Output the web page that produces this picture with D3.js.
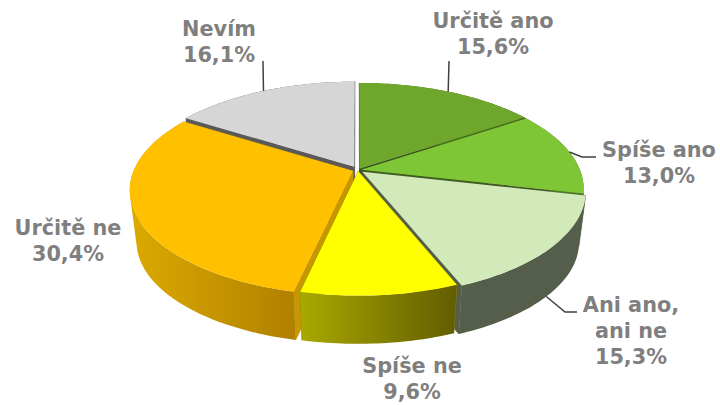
<!DOCTYPE html>
<html>
<head>
<meta charset="utf-8">
<script src="https://cdn.jsdelivr.net/npm/d3@7"></script>
<style>
  html, body { margin: 0; padding: 0; background: #fff; }
  svg { display: block; }
  text { font-family: "DejaVu Sans", sans-serif; font-weight: bold; font-size: 20.8px; fill: #7f7f7f; text-anchor: middle; }
</style>
</head>
<body>
<svg id="chart" width="720" height="405"></svg>
<script>
const categories = ['Určitě ano', 'Spíše ano', 'Ani ano, ani ne', 'Spíše ne', 'Určitě ne', 'Nevím'];
const values = [15.6, 13.0, 15.3, 9.6, 30.4, 16.1];

// styling per slice, same order as categories
const topColors = ['#6fa72d', '#7fc636', '#d2e9b9', '#ffff00', '#ffc000', '#d6d6d6'];
const wallLeft = ['#4a701e', '#4f7a22', '#555e4a', '#a9a900', '#dcaa00', '#595959'];
const wallRight = ['#4a701e', '#4f7a22', '#555e4a', '#635c00', '#b08000', '#595959'];
const edgeColors = ['#38551a', '#3c5c1a', '#555e4a', '#8a8a00', '#c89600', '#595959'];
const explode = [0.016, 0.014, 0.026, 0.012, 0.025, 0.036];
const labelLines = [['Určitě ano'], ['Spíše ano'], ['Ani ano,', 'ani ne'], ['Spíše ne'], ['Určitě ne'], ['Nevím']];
const labelPos = [[493, 28], [659, 157], [631, 312], [412, 373], [68, 235], [219, 36]];
const leaderEnds = [[[449, 61]], [[582, 157], [596, 157]], [[565, 312], [577, 312]], null, null, [[263, 61]]];

const svg = d3.select('#chart');
const defs = svg.append('defs');

// perspective projection of the unit disc
const cx = 358, cy = 170, a = 219, b = 101.5, k = 0.18;
const depth = 52, bottomScale = 0.97;

function project(u, v, bottom) {
    const w = 1 - k * v;
    const s = bottom ? bottomScale : 1;
    return [cx + s * a * u / w, cy + (bottom ? depth : 0) + s * b * v / w];
}

const pie = d3.pie().sort(null).value(d => d);
const arcs = pie(values).map((d, i) => {
    const mid = (d.startAngle + d.endAngle) / 2;
    const e = explode[i];
    const ox = e * Math.sin(mid), oy = -e * Math.cos(mid);
    const pt = (angle, r, bottom) => project(ox + r * Math.sin(angle), oy - r * Math.cos(angle), bottom);
    const n = Math.ceil((d.endAngle - d.startAngle) / 0.02);
    const angles = d3.range(n + 1).map(j => d.startAngle + (d.endAngle - d.startAngle) * j / n);
    return {i, mid, pt, angles, start: d.startAngle, end: d.endAngle};
});

const line = d3.line();
const closed = pts => line(pts) + 'Z';

// back slices first, the yellow one sits in front of the orange
const order = [5, 0, 1, 2, 4, 3];

order.forEach(i => {
    const s = arcs[i];
    const g = svg.append('g');

    // radial cut walls
    [s.start, s.end].forEach(angle => {
        g.append('path')
            .attr('d', closed([s.pt(0, 0, false), s.pt(angle, 1, false), s.pt(angle, 1, true), s.pt(0, 0, true)]))
            .attr('fill', edgeColors[i])
            .attr('stroke', edgeColors[i])
            .attr('stroke-width', 0.6);
    });

    // outer wall, one hull per rim segment so the silhouette stays straight
    const topRim = s.angles.map(t => s.pt(t, 1, false));
    const bottomRim = s.angles.map(t => s.pt(t, 1, true));
    const xs = d3.extent(topRim.concat(bottomRim), p => p[0]);
    const grad = defs.append('linearGradient')
        .attr('id', 'wall' + i)
        .attr('gradientUnits', 'userSpaceOnUse')
        .attr('x1', xs[0]).attr('x2', xs[1])
        .attr('y1', 0).attr('y2', 0);
    grad.append('stop').attr('offset', 0).attr('stop-color', wallLeft[i]);
    grad.append('stop').attr('offset', 1).attr('stop-color', wallRight[i]);
    const wallPath = d3.pairs(d3.range(topRim.length)).map(([p, q]) =>
        closed(d3.polygonHull([topRim[p], topRim[q], bottomRim[q], bottomRim[p]]))
    ).join('');
    g.append('path')
        .attr('d', wallPath)
        .attr('fill', `url(#wall${i})`);

    // top face
    g.append('path')
        .attr('d', closed([s.pt(0, 0, false)].concat(topRim)))
        .attr('fill', topColors[i]);
});

// leader lines
arcs.forEach(s => {
    const ends = leaderEnds[s.i];
    if (!ends) return;
    const onWall = s.i === 2;
    svg.append('path')
        .attr('d', line([s.pt(s.mid, 1, onWall)].concat(ends)))
        .attr('fill', 'none')
        .attr('stroke', '#404040')
        .attr('stroke-width', 1.5);
});

// labels
categories.forEach((c, i) => {
    const lines = labelLines[i].concat(values[i].toFixed(1).replace('.', ',') + '%');
    const t = svg.append('text').attr('x', labelPos[i][0]).attr('y', labelPos[i][1]);
    lines.forEach((l, j) => {
        t.append('tspan')
            .attr('x', labelPos[i][0])
            .attr('dy', j === 0 ? 0 : 26)
            .text(l);
    });
});
</script>
</body>
</html>
